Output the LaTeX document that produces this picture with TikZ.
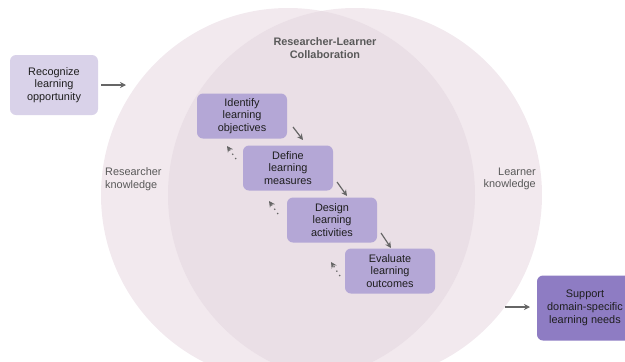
\documentclass[tikz,border=0pt]{standalone}
\usepackage{fontspec}
\setmainfont{Liberation Sans}
\usetikzlibrary{arrows.meta,calc}
\definecolor{outerc}{HTML}{F2E9EE}
\definecolor{lensc}{HTML}{EADFE6}
\definecolor{recc}{HTML}{D9D2E9}
\definecolor{stepc}{HTML}{B4A7D6}
\definecolor{supc}{HTML}{8E7CC3}
\definecolor{arrc}{HTML}{666666}
\definecolor{labc}{HTML}{595959}
\definecolor{txtc}{HTML}{1E1E1E}
\begin{document}
\begin{tikzpicture}[x=1pt,y=-1pt,
  box/.style={rounded corners=6pt, align=center, text=txtc, inner sep=0pt,
    font=\fontsize{10.9}{12.7}\selectfont},
  stepbox/.style={box, fill=stepc, minimum width=90pt, minimum height=45pt},
  fwd/.style={draw=arrc, line width=1.2pt, -{Stealth[length=6pt,width=6pt]}},
  bwd/.style={draw=arrc, line width=1.3pt, dash pattern=on 1.2pt off 4pt, -{Stealth[length=6pt,width=6pt]}},
  lab/.style={text=labc, font=\fontsize{10.9}{12.7}\selectfont, inner sep=0pt}
]
\useasboundingbox (0,0) rectangle (625,362);
\begin{scope}
\clip (0,0) rectangle (625,362);
\fill[outerc] (288,195) circle (187);
\fill[outerc] (355,195) circle (187);
\begin{scope}
\clip (288,195) circle (187);
\fill[lensc] (355,195) circle (187);
\end{scope}
\end{scope}

\node[lab, font=\bfseries\fontsize{10.9}{12.7}\selectfont, align=center] (collab) at (325,48) {Researcher-Learner\\Collaboration};
\node[lab, align=left, anchor=west] (rk) at (105,179) {Researcher\\knowledge};
\node[lab, align=right, anchor=east] (lk) at (536,179) {Learner\\knowledge};

\node[box, fill=recc, minimum width=88pt, minimum height=60pt] (rec) at (54,85) {Recognize\\learning\\opportunity};
\node[stepbox] (idf) at (242,116) {Identify\\learning\\objectives};
\node[stepbox] (def) at (288,168) {Define\\learning\\measures};
\node[stepbox] (des) at (332,220) {Design\\learning\\activities};
\node[stepbox] (eva) at (390,271) {Evaluate\\learning\\outcomes};
\node[box, fill=supc, minimum width=96pt, minimum height=65pt] (sup) at (585,308) {Support\\domain-specific\\learning needs};

\coordinate (a1) at (101,85);
\coordinate (a2) at (126,85);
\draw[fwd] (a1) -- (a2);
\coordinate (b1) at (505,307);
\coordinate (b2) at (530,307);
\draw[fwd] (b1) -- (b2);

\coordinate (f1s) at (293,127); \coordinate (f1e) at (303,140);
\coordinate (f2s) at (337,182); \coordinate (f2e) at (347,196);
\coordinate (f3s) at (381,233); \coordinate (f3e) at (391,248);
\draw[fwd] (f1s) -- (f1e);
\draw[fwd] (f2s) -- (f2e);
\draw[fwd] (f3s) -- (f3e);

\coordinate (r1s) at (236,159); \coordinate (r1e) at (227,146);
\coordinate (r2s) at (278,214); \coordinate (r2e) at (269,201);
\coordinate (r3s) at (340,276); \coordinate (r3e) at (331,262);
\draw[bwd] (r1s) -- (r1e);
\draw[bwd] (r2s) -- (r2e);
\draw[bwd] (r3s) -- (r3e);
\end{tikzpicture}
\end{document}
